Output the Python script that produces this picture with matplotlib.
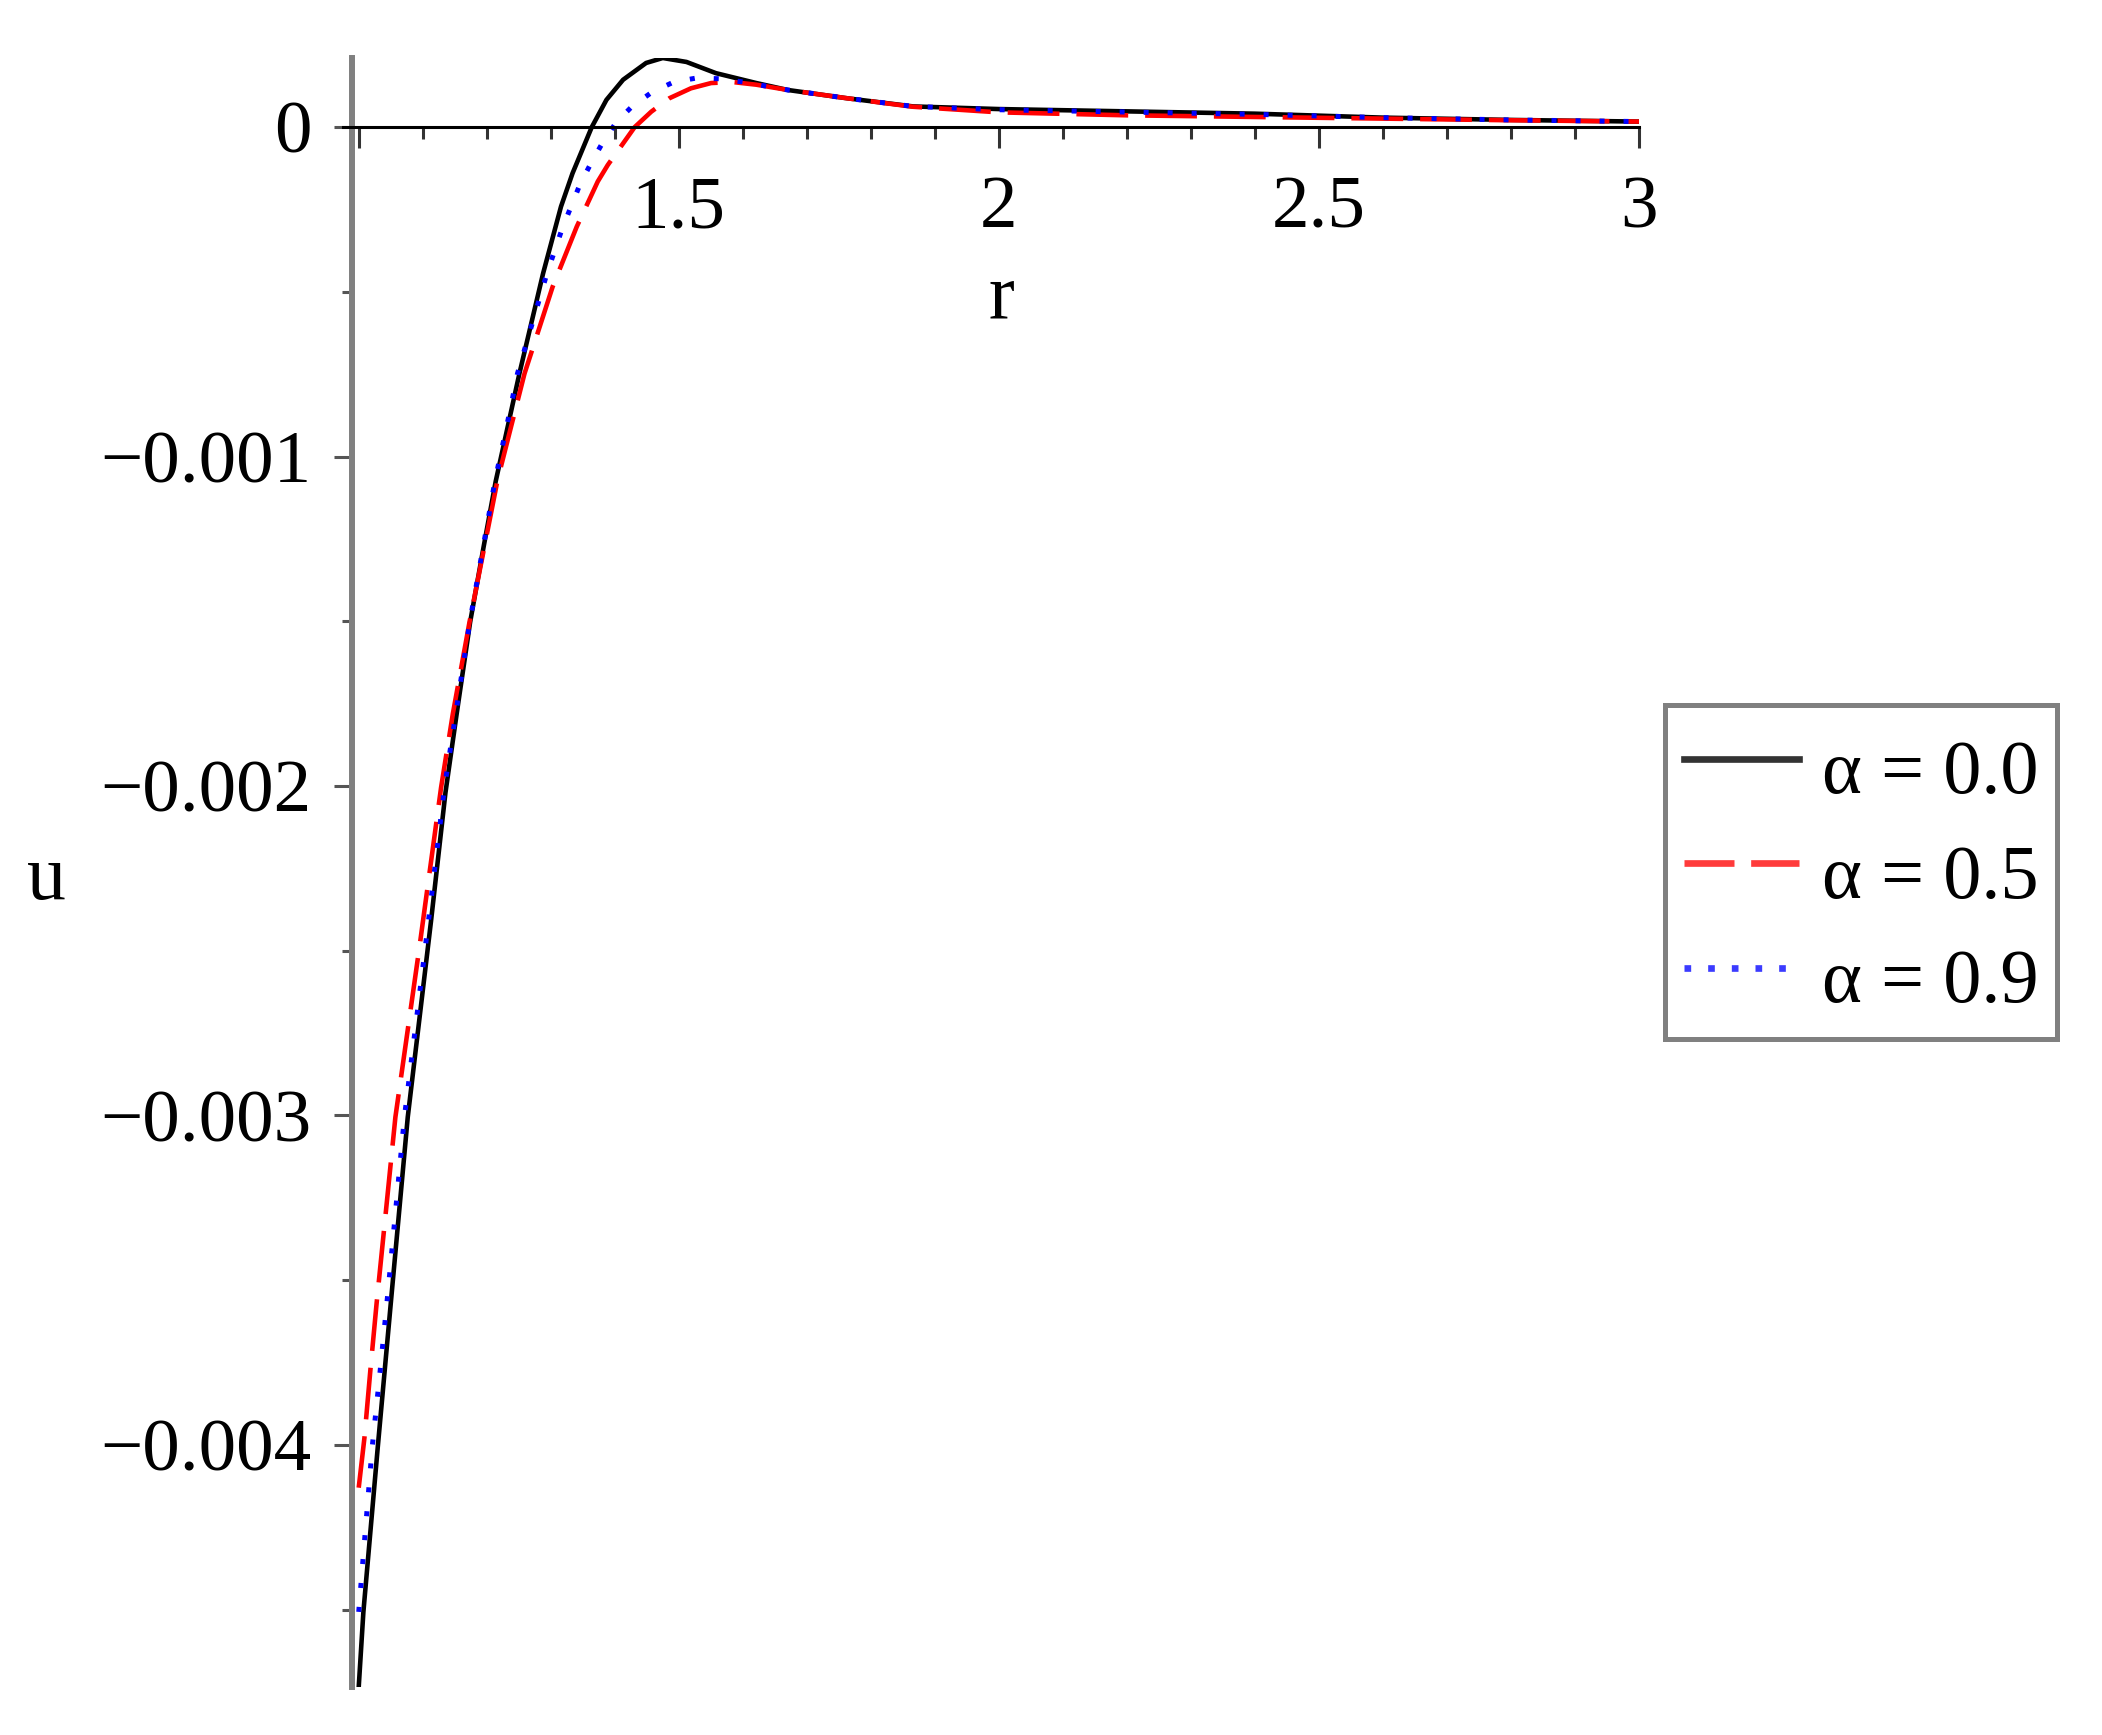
import numpy as np
from matplotlib import pyplot as plt

plt.rcParams['font.family'] = ['Liberation Serif', 'DejaVu Serif']

# values (u in units of 1e-3)
r_a00 = [1.000, 1.0073, 1.0297, 1.0506, 1.0766, 1.113, 1.1355, 1.153, 1.174, 1.195,
         1.214, 1.251, 1.288, 1.316, 1.334, 1.364, 1.387, 1.413, 1.449, 1.475,
         1.512, 1.558, 1.621, 1.670, 1.762, 1.866, 2.000, 2.200, 2.400, 2.600,
         2.800, 3.000]
u_a00 = [-4.735, -4.507, -4.008, -3.559, -3.005, -2.409, -2.020, -1.781, -1.503, -1.275,
         -1.075, -0.748, -0.444, -0.241, -0.140, 0.000, 0.083, 0.144, 0.195, 0.210,
         0.198, 0.164, 0.134, 0.113, 0.088, 0.063, 0.055, 0.048, 0.041, 0.029,
         0.022, 0.017]

r_a05 = [1.000, 1.0089, 1.0183, 1.028, 1.0313, 1.0573, 1.0948, 1.1287, 1.147, 1.173,
         1.217, 1.259, 1.303, 1.3406, 1.3734, 1.389, 1.431, 1.457, 1.4855, 1.519,
         1.5506, 1.584, 1.621, 1.670, 1.762, 1.866, 2.000, 2.200, 2.400, 2.600,
         2.800, 3.000]
u_a05 = [-4.130, -3.979, -3.771, -3.569, -3.506, -3.005, -2.490, -2.004, -1.781, -1.503,
         -1.070, -0.748, -0.484, -0.302, -0.165, -0.115, 0.000, 0.047, 0.088, 0.118,
         0.134, 0.137, 0.129, 0.113, 0.088, 0.062, 0.045, 0.036, 0.031, 0.026,
         0.021, 0.017]

r_a09 = [1.000, 1.021, 1.0334, 1.046, 1.0714, 1.104, 1.134, 1.1734, 1.213, 1.2365,
         1.248, 1.294, 1.318, 1.346, 1.363, 1.381, 1.402, 1.428, 1.458, 1.492,
         1.527, 1.564, 1.601, 1.670, 1.762, 1.866, 2.000, 2.200, 2.400, 2.600,
         2.800, 3.000]
u_a09 = [-4.507, -4.008, -3.777, -3.530, -3.005, -2.490, -2.004, -1.503, -1.072, -0.859,
         -0.748, -0.444, -0.307, -0.172, -0.109, -0.047, 0.014, 0.065, 0.106, 0.137,
         0.149, 0.147, 0.137, 0.113, 0.088, 0.063, 0.053, 0.046, 0.039, 0.029,
         0.022, 0.017]

labels = ['α = 0.0', 'α = 0.5', 'α = 0.9']

x_ticks = [1.0, 1.5, 2.0, 2.5, 3.0]
x_ticklabels = ['', '1.5', '2', '2.5', '3']
y_ticks = [0.0, -0.001, -0.002, -0.003, -0.004]
y_ticklabels = ['0', '\u22120.001', '\u22120.002', '\u22120.003', '\u22120.004']


def main():
    W, H = 2102, 1735
    fig = plt.figure(figsize=(W / 100, H / 100), dpi=100)
    ax = fig.add_axes([352 / W, 1 - 1687 / H, (1639 - 352) / W, (1687 - 58) / H])

    k = 1e-3
    l0, = ax.plot(r_a00, np.array(u_a00) * k, color='black', lw=3.3,
                  solid_joinstyle='round', label=labels[0])
    l1, = ax.plot(r_a05, np.array(u_a05) * k, color='#ff0000', lw=3.3,
                  linestyle=(0, (11.3, 3.7)), label=labels[1])
    l2, = ax.plot(r_a09, np.array(u_a09) * k, color='#0000ff', lw=3.6,
                  linestyle=(0, (1.0, 3.8)), label=labels[2])

    ax.set_xlim(0.9895, 3.0)
    ax.set_ylim(-0.004735, 0.00021)

    # maple-like axes
    ax.spines['top'].set_visible(False)
    ax.spines['right'].set_visible(False)
    ax.spines['left'].set_color('#808080')
    ax.spines['left'].set_linewidth(4.3)
    ax.spines['bottom'].set_position(('data', 0))
    ax.spines['bottom'].set_color('black')
    ax.spines['bottom'].set_linewidth(2.2)
    ax.spines['bottom'].set_bounds(0.975, 3.0)

    ax.set_xticks(x_ticks)
    ax.set_xticklabels(x_ticklabels)
    ax.set_xticks(np.arange(1.1, 3.0, 0.1), minor=True)
    ax.set_yticks(y_ticks)
    ax.set_yticklabels(y_ticklabels)
    ax.set_yticks(np.arange(-0.0045, 0.0, 0.001), minor=True)

    ax.tick_params(axis='x', which='major', direction='out', length=15, width=2.2,
                   color='#333333', labelsize=54, pad=20)
    ax.tick_params(axis='x', which='minor', direction='out', length=8.6, width=2.2,
                   color='#333333')
    ax.tick_params(axis='y', which='major', direction='out', length=13, width=2.2,
                   color='#555555', labelsize=54, pad=16)
    ax.tick_params(axis='y', which='minor', direction='out', length=7, width=2.2,
                   color='#555555')

    fig.text(1001 / W, 1 - 318 / H, 'r', fontsize=56, ha='center', va='baseline')
    fig.text(46 / W, 1 - 899 / H, 'u', fontsize=56, ha='center', va='baseline')

    leg = ax.legend(handles=[l0, l1, l2], loc='upper left',
                    bbox_to_anchor=(1665 / W, 1 - 705 / H), bbox_transform=fig.transFigure,
                    borderaxespad=0, fontsize=55, handlelength=1.5, handletextpad=0.3,
                    labelspacing=0.235, handleheight=1.37, borderpad=0.25,
                    fancybox=False, framealpha=1)
    leg.get_frame().set_edgecolor('#808080')
    leg.get_frame().set_linewidth(3.6)
    hl = leg.get_lines()
    hl[0].set_linewidth(4.8)
    hl[0].set_color('#333333')
    hl[1].set_linewidth(4.8)
    hl[1].set_linestyle((0, (7.5, 2.5)))
    hl[1].set_color('#ff3b3b')
    hl[2].set_linewidth(4.8)
    hl[2].set_linestyle((0, (1.0, 2.55)))
    hl[2].set_color('#3b3bff')

    fig.savefig('out.png', dpi=100)


if __name__ == '__main__':
    main()
